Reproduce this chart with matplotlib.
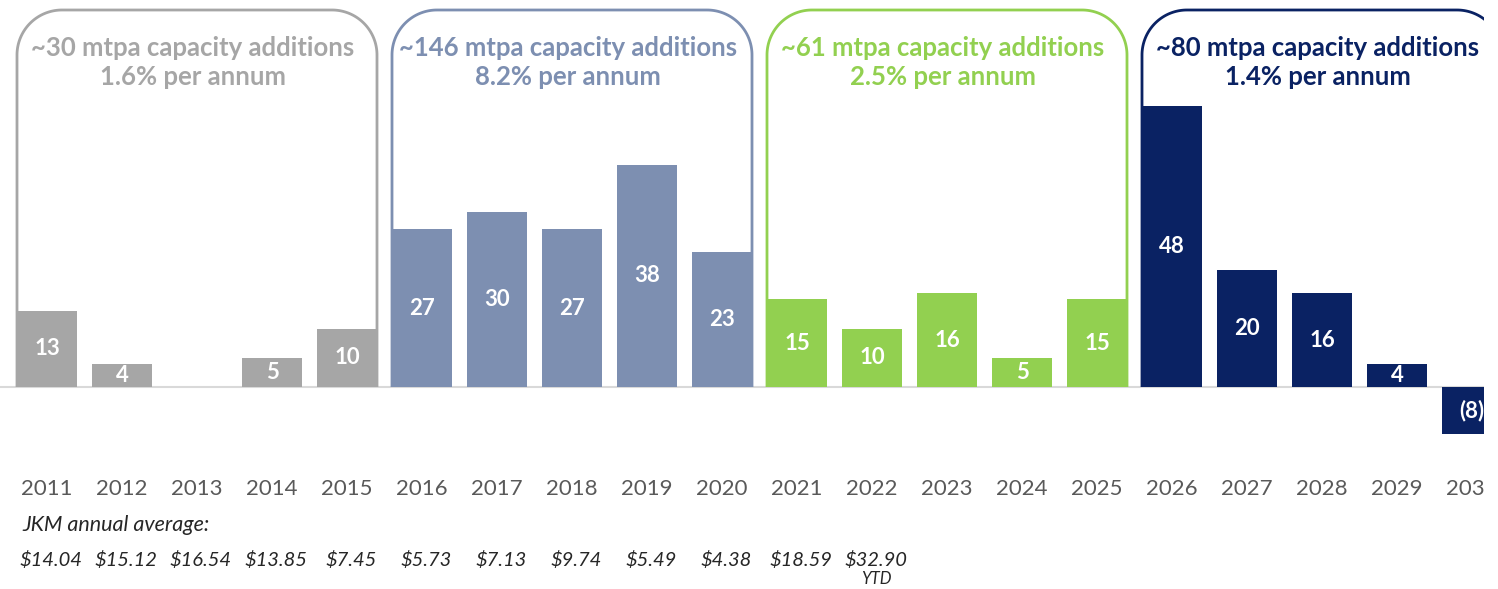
import matplotlib
matplotlib.use("Agg")
import matplotlib.pyplot as plt
import numpy as np

# ---- data ----
years = [str(y) for y in range(2011, 2031)]
values = [13, 4, 0, 5, 10, 27, 30, 27, 38, 23, 15, 10, 16, 5, 15, 48, 20, 16, 4, -8]
value_labels = ["13", "4", "", "5", "10", "27", "30", "27", "38", "23",
                "15", "10", "16", "5", "15", "48", "20", "16", "4", "(8)"]
group_titles = ["~30 mtpa capacity additions", "~146 mtpa capacity additions",
                "~61 mtpa capacity additions", "~80 mtpa capacity additions"]
group_rates = ["1.6% per annum", "8.2% per annum", "2.5% per annum", "1.4% per annum"]
group_colors = ["#A6A6A6", "#7D8FB1", "#92D050", "#0A2263"]
group_size = 5
jkm_prices = ["$14.04", "$15.12", "$16.54", "$13.85", "$7.45", "$5.73", "$7.13",
              "$9.74", "$5.49", "$4.38", "$18.59", "$32.90"]
jkm_title = "JKM annual average:"
ytd_note = "YTD"

plt.rcParams['font.family'] = ['Lato', 'DejaVu Sans']

W, H = 1498, 589
fig = plt.figure(figsize=(W / 100, H / 100), dpi=100)
clip_px = 1484
ax = fig.add_axes([0, 0, clip_px / W, 1])

step_px = 75.0
x0_px = 47.0
base_px = 387.0
ppu = 5.85  # pixels per unit


def py(p):
    return (base_px - p) / ppu


ax.set_xlim(-x0_px / step_px, (clip_px - x0_px) / step_px)
ax.set_ylim(py(H), py(0))
ax.axis('off')

x = np.arange(len(years))
colors = [group_colors[i // group_size] for i in range(len(years))]
bw = 0.8

# baseline
ax.axhline(0, color="#D9D9D9", lw=1.5, zorder=1)

bars = ax.bar(x, values, width=bw, color=colors, zorder=2, linewidth=0)

for xi, v, lab in zip(x, values, value_labels):
    if lab:
        ax.text(xi, v / 2, lab, ha='center', va='center', color='white',
                fontsize=16, fontweight='bold', zorder=3, clip_on=True)

# brackets
rx = 45 / step_px
ry = 45 / ppu
top = py(10)
for g in range(4):
    i0 = g * group_size
    i1 = i0 + group_size - 1
    left = x[i0] - bw / 2
    right = x[i1] + bw / 2
    t1 = np.linspace(np.pi, np.pi / 2, 40)
    t2 = np.linspace(np.pi / 2, 0, 40)
    xs = np.concatenate([[left], left + rx + rx * np.cos(t1),
                         right - rx + rx * np.cos(t2), [right]])
    ys = np.concatenate([[0], top - ry + ry * np.sin(t1),
                         top - ry + ry * np.sin(t2), [0]])
    ax.plot(xs, ys, color=group_colors[g], lw=2, zorder=2,
            solid_capstyle='butt', clip_on=True)
    cx = (left + right) / 2 - 4 / step_px
    ax.text(cx, py(48), group_titles[g], ha='center', va='center',
            color=group_colors[g], fontsize=18.5, fontweight='bold', clip_on=True)
    ax.text(cx, py(77), group_rates[g], ha='center', va='center',
            color=group_colors[g], fontsize=18.5, fontweight='bold', clip_on=True)

# year labels
for xi, yr in zip(x, years):
    ax.text(xi, py(489), yr, ha='center', va='center', color='#595959',
            fontsize=16, clip_on=True)

# JKM
ax.text(-x0_px / step_px + 22 / step_px, py(525), jkm_title, ha='left', va='center',
        color='#262626', fontsize=15.5, style='italic')
for xi, p in zip(x, jkm_prices):
    ax.text(xi + 4 / step_px, py(560), p, ha='center', va='center', color='#262626',
            fontsize=14.5, style='italic')
ax.text(x[len(jkm_prices) - 1] + 4 / step_px, py(579), ytd_note, ha='center',
        va='center', color='#262626', fontsize=12, style='italic')

fig.savefig("out.png", dpi=100, facecolor='white')
